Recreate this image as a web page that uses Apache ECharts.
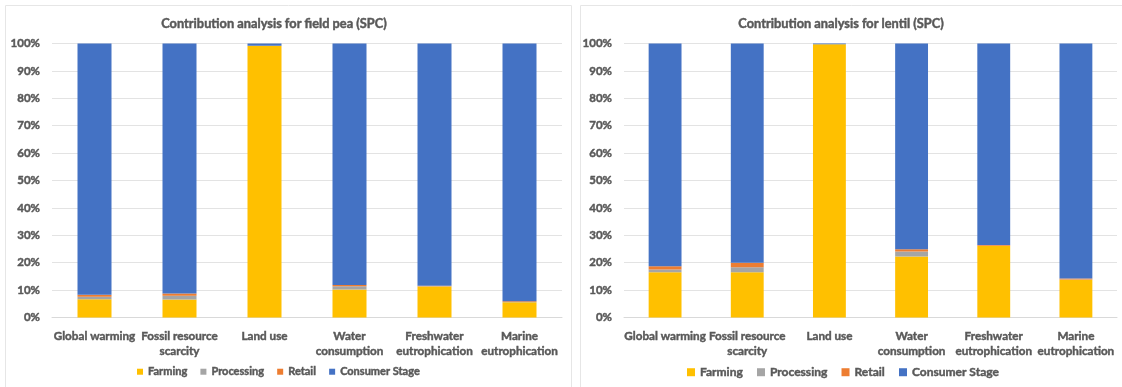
<!DOCTYPE html>
<html>
<head>
<meta charset="utf-8">
<script src="https://cdn.jsdelivr.net/npm/echarts@6/dist/echarts.min.js"></script>
<style>
  html, body { margin: 0; padding: 0; background: #ffffff; }
  #chart { width: 1122px; height: 387px; }
</style>
</head>
<body>
<div id="chart"></div>
<script>
// Impact categories shared by both panels
const categories = [
  'Global warming',
  'Fossil resource\nscarcity',
  'Land use',
  'Water\nconsumption',
  'Freshwater\neutrophication',
  'Marine\neutrophication'
];

const stages = ['Farming', 'Processing', 'Retail', 'Consumer Stage'];
const stageColors = ['#FFC000', '#A5A5A5', '#ED7D31', '#4472C4'];

// Field pea: share of each life-cycle stage (%)
const peaFarming    = [6.7, 6.6, 99.2, 10.2, 11.3, 5.6];
const peaProcessing = [0.9, 1.3, 0.0, 1.2, 0.1, 0.1];
const peaRetail     = [0.7, 0.9, 0.0, 0.5, 0.2, 0.2];
const peaConsumer   = [91.7, 91.2, 0.8, 88.1, 88.4, 94.1];

// Lentil: share of each life-cycle stage (%)
const lentilFarming    = [16.5, 16.5, 99.7, 22.3, 26.1, 13.8];
const lentilProcessing = [1.0, 1.8, 0.0, 1.8, 0.1, 0.1];
const lentilRetail     = [1.2, 1.7, 0.0, 0.8, 0.3, 0.3];
const lentilConsumer   = [81.3, 80.0, 0.3, 75.1, 73.5, 85.8];

const yTicks = { min: 0, max: 100, interval: 10 };

const textGray = '#595959';
const fontFamily = 'Lato, "Noto Sans", sans-serif';

// Shared bold text look; a hairline outline in the same colour thickens the strokes
function textLook(size) {
  return {
    color: textGray,
    fontFamily: fontFamily,
    fontWeight: 'bold',
    fontSize: size,
    textBorderColor: textGray,
    textBorderWidth: 0.45
  };
}

function makeSeries(idx, stack, data) {
  return data.map((values, i) => ({
    name: stages[i],
    type: 'bar',
    stack: stack,
    xAxisIndex: idx,
    yAxisIndex: idx,
    barWidth: '40%',
    itemStyle: { color: stageColors[i] },
    emphasis: { disabled: true },
    data: values
  }));
}

function xAxisFor(idx, size) {
  return {
    type: 'category',
    gridIndex: idx,
    data: categories,
    axisTick: { show: false },
    axisLine: { lineStyle: { color: '#d9d9d9' } },
    axisLabel: Object.assign(textLook(size), {
      interval: 0,
      lineHeight: 15,
      margin: 11
    })
  };
}

function yAxisFor(idx, size) {
  return {
    type: 'value',
    gridIndex: idx,
    min: yTicks.min,
    max: yTicks.max,
    interval: yTicks.interval,
    axisLine: { show: false },
    axisTick: { show: false },
    splitLine: { lineStyle: { color: '#e3e3e3' } },
    axisLabel: Object.assign(textLook(size), {
      formatter: '{value}%',
      margin: 12
    })
  };
}

function legendFor(leftX, size, icon, gap) {
  return {
    data: stages,
    left: leftX,
    top: 361,
    icon: 'rect',
    itemWidth: icon,
    itemHeight: icon,
    itemGap: gap,
    selectedMode: false,
    textStyle: textLook(size)
  };
}

const chart = echarts.init(document.getElementById('chart'), null, { renderer: 'canvas' });

chart.setOption({
  animation: false,
  backgroundColor: '#ffffff',
  graphic: [
    { type: 'rect', shape: { x: 5.5, y: 5.5, width: 566, height: 400 },
      style: { fill: 'none', stroke: '#e6e6e6', lineWidth: 1 }, silent: true, z: -10 },
    { type: 'rect', shape: { x: 580.5, y: 5.5, width: 560, height: 400 },
      style: { fill: 'none', stroke: '#e6e6e6', lineWidth: 1 }, silent: true, z: -10 }
  ],
  title: [
    {
      text: 'Contribution analysis for field pea (SPC)',
      left: 269, top: 12, textAlign: 'center',
      textStyle: textLook(12.8)
    },
    {
      text: 'Contribution analysis for lentil (SPC)',
      left: 836, top: 12, textAlign: 'center',
      textStyle: textLook(12.8)
    }
  ],
  legend: [legendFor(132, 11, 6, 13), legendFor(682, 12, 8, 14)],
  grid: [
    { left: 52, top: 43.5, width: 510, height: 274 },
    { left: 624, top: 43.5, width: 493, height: 274 }
  ],
  xAxis: [xAxisFor(0, 11.7), xAxisFor(1, 11.7)],
  yAxis: [yAxisFor(0, 11.5), yAxisFor(1, 11.5)],
  series: [
    ...makeSeries(0, 'pea', [peaFarming, peaProcessing, peaRetail, peaConsumer]),
    ...makeSeries(1, 'lentil', [lentilFarming, lentilProcessing, lentilRetail, lentilConsumer])
  ]
});
</script>
</body>
</html>
